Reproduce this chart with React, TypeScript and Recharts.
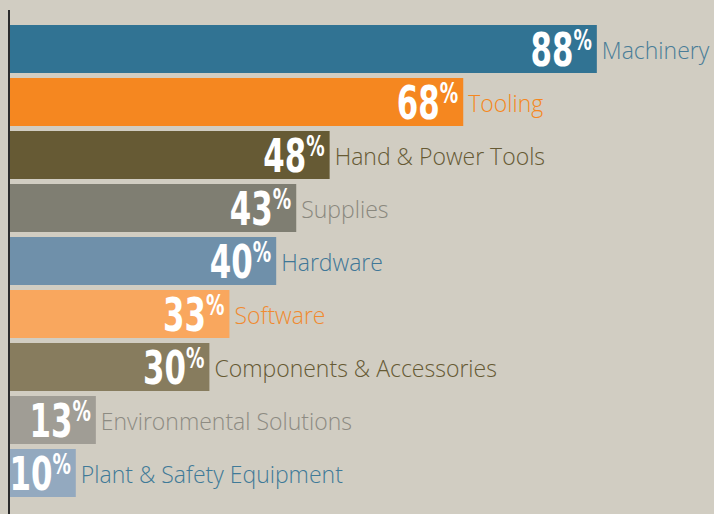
import React from "react";
import { BarChart, Bar, XAxis, YAxis, Cell, LabelList } from "recharts";

const categories = [
  "Machinery",
  "Tooling",
  "Hand & Power Tools",
  "Supplies",
  "Hardware",
  "Software",
  "Components & Accessories",
  "Environmental Solutions",
  "Plant & Safety Equipment",
];
const values = [88, 68, 48, 43, 40, 33, 30, 13, 10];
const barColors = [
  "#317393",
  "#f58720",
  "#665a34",
  "#7f7e72",
  "#6f90aa",
  "#f9a75e",
  "#877c5e",
  "#a09d95",
  "#93a9bf",
];
const labelColors = [
  "#4a7d98",
  "#f58720",
  "#665a34",
  "#8a887e",
  "#3f7797",
  "#f08a30",
  "#665a34",
  "#8d8b82",
  "#3f7a98",
];

const data = categories.map((name, i) => ({ name, value: values[i] }));

const valueFont = "'DejaVu Sans Condensed', 'DejaVu Sans', sans-serif";
const nameFont = "'Open Sans', 'Noto Sans', sans-serif";

function BarLabel(props: any) {
  const { x, y, width, height, index } = props;
  const cy = y + height / 2;
  const right = x + width;
  return (
    <g>
      <g transform={`translate(${right - 5}, ${cy + 17}) scale(0.73, 1)`}>
        <text
          x={0}
          y={0}
          textAnchor="end"
          fill="#ffffff"
          fontFamily={valueFont}
          fontWeight="bold"
        >
          <tspan fontSize={47}>{values[index]}</tspan>
          <tspan fontSize={28} dy={-16}>%</tspan>
        </text>
      </g>
      <text
        x={right + 5}
        y={cy + 9.5}
        fill={labelColors[index]}
        fontFamily={nameFont}
        fontWeight={300}
        fontSize={23}
      >
        {categories[index]}
      </text>
    </g>
  );
}

export default function App() {
  return (
    <div
      style={{
        position: "absolute",
        left: 0,
        top: 0,
        width: 714,
        height: 514,
        background: "#d1cdc2",
        overflow: "hidden",
      }}
    >
      <BarChart
        width={714}
        height={514}
        data={data}
        layout="vertical"
        margin={{ top: 10, right: 37, bottom: 0, left: 8 }}
        barCategoryGap="5%"
      >
        <XAxis type="number" domain={[0, 100]} hide />
        <Bar dataKey="value" isAnimationActive={false}>
          {data.map((d, i) => (
            <Cell key={d.name} fill={barColors[i]} />
          ))}
          <LabelList dataKey="value" content={BarLabel} />
        </Bar>
        <YAxis
          type="category"
          dataKey="name"
          width={1}
          tick={false}
          tickLine={false}
          axisLine={{ stroke: "#2b2b2b", strokeWidth: 2 }}
          padding={{ top: 12.35, bottom: 14.65 }}
        />
      </BarChart>
    </div>
  );
}
